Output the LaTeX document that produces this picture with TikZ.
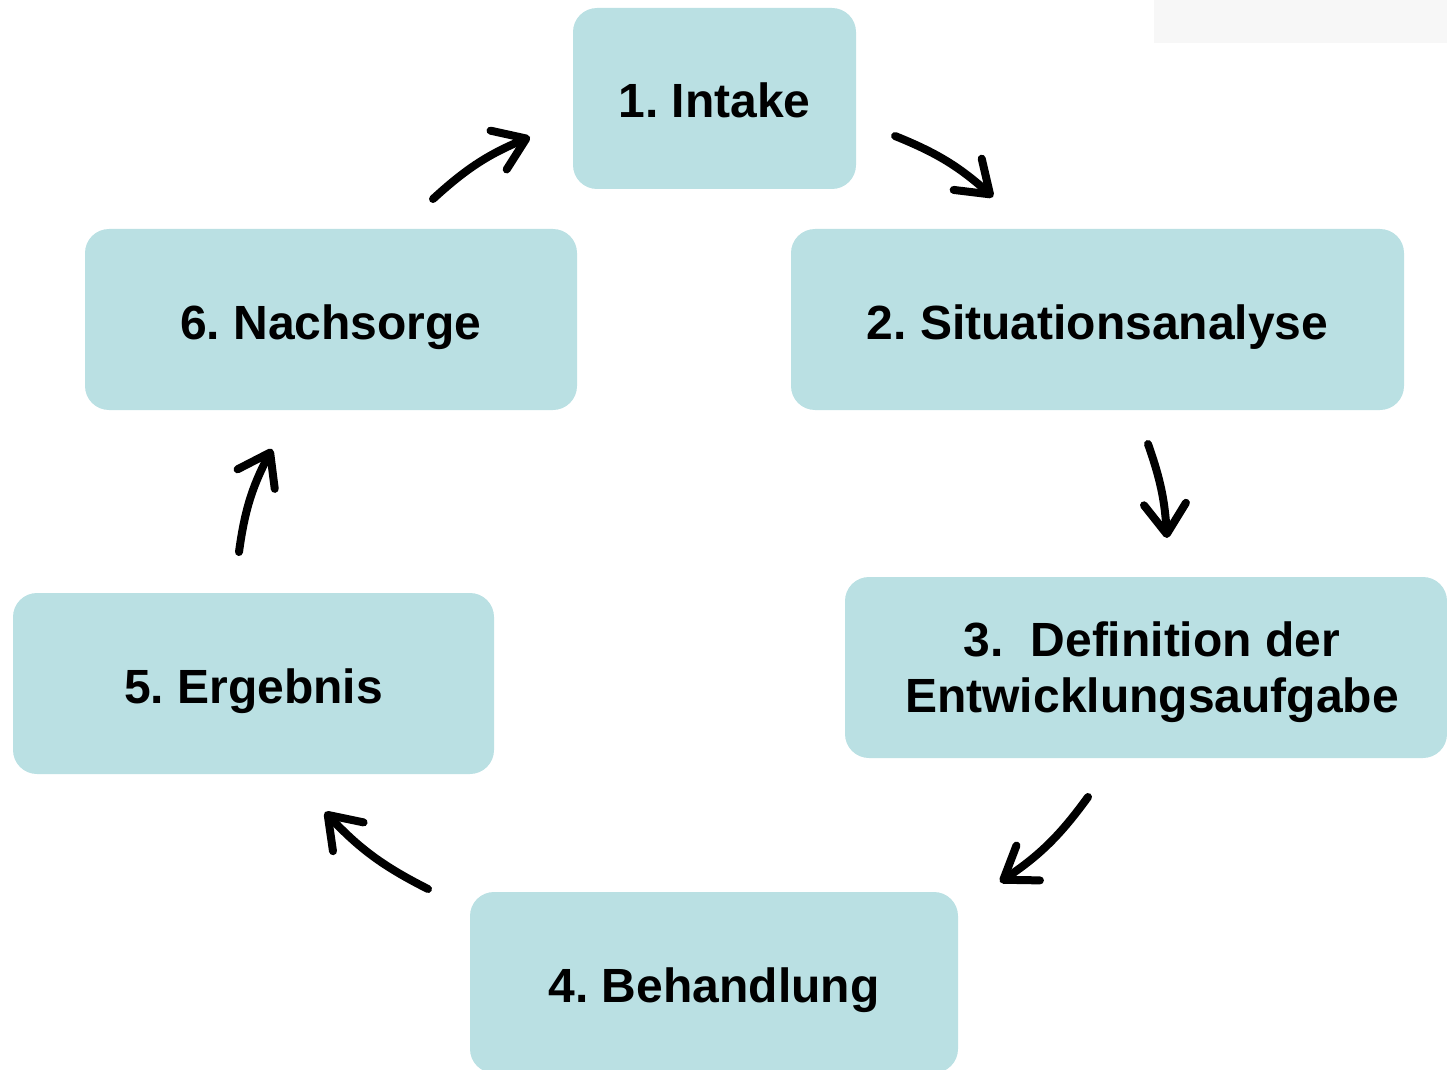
\documentclass[tikz,border=0pt]{standalone}
\usepackage{fontspec}
\setmainfont{Liberation Sans}
\usetikzlibrary{arrows.meta}
\definecolor{boxfill}{HTML}{BAE0E3}
\definecolor{greybg}{HTML}{F7F7F7}
\tikzset{
  stepbox/.style={fill=boxfill, draw=none, rounded corners=12pt, minimum height=90.5pt,
    inner sep=0pt, align=center, text height=19.5pt, text depth=0pt,
    font=\fontsize{24}{27.6}\selectfont\bfseries\frenchspacing},
  cyc/.style={line width=4pt, line cap=round,
    -{Straight Barb[length=15pt,width=21pt,line width=4pt,round]}}
}
\begin{document}
\begin{tikzpicture}[x=0.5pt,y=-0.5pt]
\useasboundingbox (0,0) rectangle (1447,1070);
\clip (0,0) rectangle (1447,1070);
\fill[greybg] (1154,0) rectangle (1447,43);

\node[stepbox, minimum width=141.5pt] (n1) at (714.5,98.5) {1. Intake};
\node[stepbox, minimum width=306.5pt] (n2) at (1097.5,319.5) {2. Situationsanalyse};
\node[stepbox, minimum width=301pt, text height=44.5pt, text depth=0pt] (n3) at (1146,667.5) {\hspace*{6pt}3.\ \ Definition der\\\hspace*{6pt}Entwicklungsaufgabe};
\node[stepbox, minimum width=244pt] (n4) at (714,982.5) {4. Behandlung};
\node[stepbox, minimum width=240.5pt] (n5) at (253.5,683.5) {5. Ergebnis};
\node[stepbox, minimum width=246pt] (n6) at (331,319.5) {6. Nachsorge};

\coordinate (a1s) at (433,199);  \coordinate (a1e) at (530,137);
\coordinate (a2s) at (895,136);  \coordinate (a2e) at (993,197);
\coordinate (a3s) at (1148,444); \coordinate (a3e) at (1167,538);
\coordinate (a4s) at (1088,797); \coordinate (a4e) at (1000,882);
\coordinate (a5s) at (428,889);  \coordinate (a5e) at (325,812);
\coordinate (a6s) at (239,552);  \coordinate (a6e) at (272,449);

\draw[cyc] (a1s) to[bend left=10] (a1e);
\draw[cyc] (a2s) to[bend left=10] (a2e);
\draw[cyc] (a3s) to[bend left=8] (a3e);
\draw[cyc] (a4s) to[bend left=10] (a4e);
\draw[cyc] (a5s) to[bend left=10] (a5e);
\draw[cyc] (a6s) to[bend left=10] (a6e);
\end{tikzpicture}
\end{document}
